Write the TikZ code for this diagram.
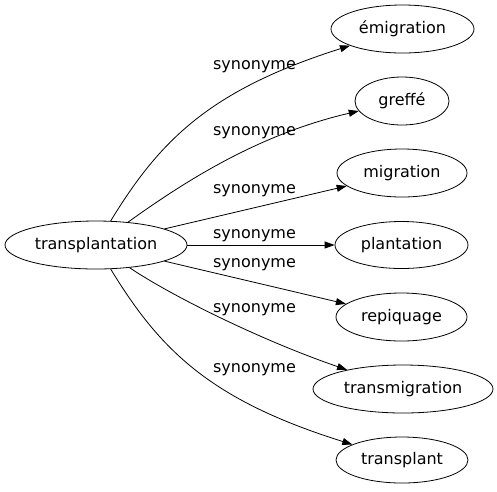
\documentclass[tikz,border=0pt]{standalone}
\usepackage{fontspec}
\setmainfont{DejaVu Sans}
\usetikzlibrary{shapes.geometric,arrows.meta}
\begin{document}
\begin{tikzpicture}[x=1pt,y=-1pt,
  word/.style={draw,ellipse,inner sep=0pt,line width=0.8pt,font=\fontsize{16}{18}\selectfont},
  lbl/.style={font=\fontsize{16}{18}\selectfont,inner sep=0pt},
  edge/.style={line width=0.8pt,-{Triangle[length=10pt,width=7pt]}}]
\useasboundingbox (0,0) rectangle (497,491);
\node[word,minimum width=182pt,minimum height=48pt] (t) at (96,245) {transplantation};
\node[word,minimum width=143pt,minimum height=48pt] (e1) at (402.5,29) {émigration};
\node[word,minimum width=94pt,minimum height=48pt] (e2) at (402,101) {greffé};
\node[word,minimum width=130pt,minimum height=48pt] (e3) at (402,173) {migration};
\node[word,minimum width=133pt,minimum height=47pt] (e4) at (401.5,245) {plantation};
\node[word,minimum width=131pt,minimum height=48pt] (e5) at (401.5,317) {repiquage};
\node[word,minimum width=180pt,minimum height=48pt] (e6) at (403,389) {transmigration};
\node[word,minimum width=132pt,minimum height=46pt] (e7) at (402,460) {transplant};
\draw[edge] (t) .. controls (160,140) and (210,90) .. (e1);
\draw[edge] (t) .. controls (180,185) and (255,135) .. (e2);
\draw[edge] (t) -- (e3);
\draw[edge] (t) -- (e4);
\draw[edge] (t) -- (e5);
\draw[edge] (t) .. controls (170,295) and (260,340) .. (e6);
\draw[edge] (t) .. controls (160,350) and (210,400) .. (e7);
\node[lbl] (l1) at (254.5,67) {synonyme};
\node[lbl] (l2) at (254.5,133) {synonyme};
\node[lbl] (l3) at (254.5,191) {synonyme};
\node[lbl] (l4) at (254.5,236) {synonyme};
\node[lbl] (l5) at (254.5,265) {synonyme};
\node[lbl] (l6) at (254.5,310) {synonyme};
\node[lbl] (l7) at (254.5,370) {synonyme};
\end{tikzpicture}
\end{document}
